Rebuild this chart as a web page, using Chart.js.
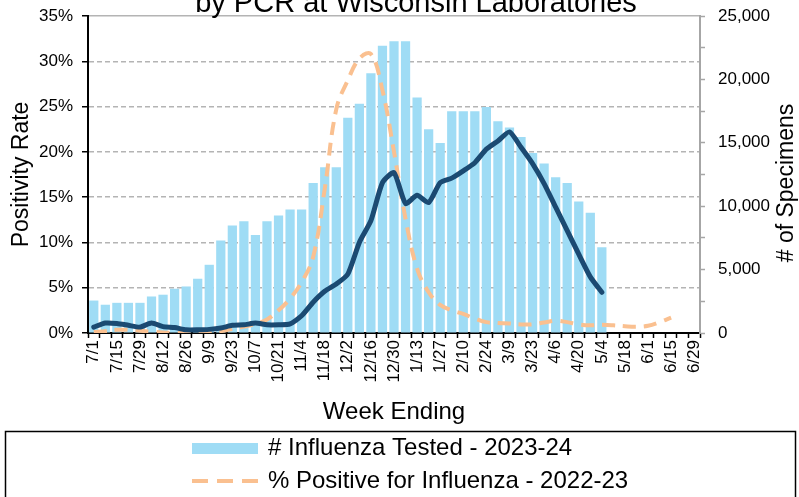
<!DOCTYPE html>
<html>
<head>
<meta charset="utf-8">
<script src="https://cdn.jsdelivr.net/npm/chart.js@4.4.1/dist/chart.umd.min.js"></script>
<style>
  html, body { margin: 0; padding: 0; background: #fff; }
  #wrap { width: 799px; height: 497px; position: relative; overflow: hidden; }
</style>
</head>
<body>
<div id="wrap"><canvas id="fluChart" width="799" height="497"></canvas></div>
<script>
// Week ending dates, July 2023 - June 2024
const weeks = ['7/1', '7/8', '7/15', '7/22', '7/29', '8/5', '8/12', '8/19', '8/26',
    '9/2', '9/9', '9/16', '9/23', '9/30', '10/7', '10/14', '10/21', '10/28',
    '11/4', '11/11', '11/18', '11/25', '12/2', '12/9', '12/16', '12/23', '12/30',
    '1/6', '1/13', '1/20', '1/27', '2/3', '2/10', '2/17', '2/24',
    '3/2', '3/9', '3/16', '3/23', '3/30', '4/6', '4/13', '4/20', '4/27',
    '5/4', '5/11', '5/18', '5/25', '6/1', '6/8', '6/15', '6/22', '6/29'];

// # of specimens tested, 2023-24 (right axis)
const tested2324 = [2560, 2230, 2380, 2380, 2380, 2880, 3020, 3490, 3670, 4280,
    5380, 7300, 8480, 8820, 7720, 8820, 9270, 9740, 9740, 11820,
    13080, 13080, 16980, 18080, 20480, 22660, 23000, 23000, 18580, 16060,
    14980, 17480, 17480, 17480, 17820, 16690, 16210, 15450, 14190, 13370,
    12290, 11820, 10380, 9480, 6770];

// % positive for influenza, 2023-24 (left axis)
const pos2324 = [0.65, 1.1, 1.05, 0.85, 0.65, 1.1, 0.7, 0.6, 0.35, 0.35,
    0.4, 0.55, 0.85, 0.9, 1.1, 0.9, 0.9, 1.0, 1.9, 3.4,
    4.6, 5.4, 6.5, 10.0, 12.4, 16.6, 17.7, 14.3, 15.2, 14.4,
    16.6, 17.1, 17.9, 18.8, 20.3, 21.2, 22.2, 20.5, 18.7, 16.5,
    13.9, 11.3, 8.7, 6.2, 4.5];

// % positive for influenza, 2022-23 (left axis)
const pos2223 = [0.1, 0.2, 0.35, 0.35, 0.25, 0.15, 0.05, 0.0, 0.0, 0.0,
    0.05, 0.2, 0.45, 0.7, 1.0, 1.5, 2.5, 3.8, 5.6, 8.4,
    15.9, 24.7, 27.9, 30.3, 30.8, 26.8, 20.0, 12.6, 7.1, 4.5,
    3.1, 2.5, 2.1, 1.6, 1.2, 1.1, 1.05, 0.95, 0.95, 1.15,
    1.35, 1.2, 0.95, 0.85, 0.9, 0.85, 0.75, 0.7, 0.8, 1.2,
    1.7];

const titleText = 'by PCR at Wisconsin Laboratories';
const barColor = '#9fdcf5';
const blueColor = '#1b4a72';
const orangeColor = '#fac090';
const fontFam = "'Liberation Sans', Arial, sans-serif";

Chart.defaults.font.family = fontFam;
Chart.defaults.color = '#000';

// title, right axis title and the boxed legend
const extras = {
    id: 'extras',
    afterDraw(chart) {
        const c = chart.ctx;
        c.save();
        c.fillStyle = '#000';
        c.font = '29px ' + fontFam;
        c.textAlign = 'center';
        c.textBaseline = 'alphabetic';
        c.fillText(titleText, 416, 12);

        c.save();
        c.translate(787, 183);
        c.rotate(-Math.PI / 2);
        c.font = '23px ' + fontFam;
        c.textBaseline = 'middle';
        c.fillText('# of Specimens', 0, 0);
        c.restore();

        // legend box
        c.strokeStyle = '#000';
        c.lineWidth = 1.5;
        c.strokeRect(5.5, 431.5, 790, 120);

        c.fillStyle = barColor;
        c.fillRect(192, 443, 66, 11);

        c.strokeStyle = orangeColor;
        c.lineWidth = 4;
        c.setLineDash([16, 9]);
        c.beginPath();
        c.moveTo(192, 481);
        c.lineTo(264, 481);
        c.stroke();
        c.setLineDash([]);

        c.fillStyle = '#000';
        c.font = '24px ' + fontFam;
        c.textAlign = 'left';
        c.textBaseline = 'middle';
        c.fillText('# Influenza Tested - 2023-24', 268, 448);
        c.fillText('% Positive for Influenza - 2022-23', 268, 481);
        c.restore();
    }
};

// fixed axis boxes so the plot area lands where it is in the original
function fixY(w) {
    return s => {
        s.width = w;
        s.paddingTop = 0;
        s.paddingBottom = 0;
    };
}

const ctx = document.getElementById('fluChart').getContext('2d');
new Chart(ctx, {
    type: 'bar',
    data: {
        labels: weeks,
        datasets: [{
            type: 'line',
            label: '% Positive for Influenza - 2023-24',
            data: pos2324,
            yAxisID: 'y',
            borderColor: blueColor,
            borderWidth: 5,
            borderCapStyle: 'round',
            borderJoinStyle: 'round',
            pointRadius: 0,
            tension: 0.2,
            order: 0
        }, {
            type: 'line',
            label: '% Positive for Influenza - 2022-23',
            data: pos2223,
            yAxisID: 'y',
            borderColor: orangeColor,
            borderWidth: 4,
            borderDash: [13, 8],
            pointRadius: 0,
            tension: 0.4,
            order: 1
        }, {
            label: '# Influenza Tested - 2023-24',
            data: tested2324,
            yAxisID: 'yR',
            backgroundColor: barColor,
            barPercentage: 0.8,
            categoryPercentage: 1,
            order: 2
        }]
    },
    options: {
        responsive: false,
        animation: false,
        devicePixelRatio: 1,
        layout: { padding: { top: 16, left: 0, right: 0, bottom: 0 } },
        plugins: {
            legend: { display: false },
            title: { display: false },
            tooltip: { enabled: false }
        },
        scales: {
            x: {
                afterFit: s => { s.height = 164; },
                grid: {
                    drawOnChartArea: false,
                    drawTicks: true,
                    tickLength: 5,
                    tickColor: '#000',
                    tickWidth: 1.5,
                    offset: true
                },
                border: { color: '#000', width: 2 },
                ticks: {
                    autoSkip: false,
                    minRotation: 90,
                    maxRotation: 90,
                    padding: 2,
                    font: { size: 17 },
                    callback: function (v, i) { return i % 2 === 0 ? weeks[i] : ''; }
                },
                title: {
                    display: true,
                    text: 'Week Ending',
                    font: { size: 24 },
                    padding: { top: 0, bottom: 70.6 }
                }
            },
            y: {
                position: 'left',
                min: 0,
                max: 35,
                afterFit: fixY(88),
                ticks: {
                    stepSize: 5,
                    padding: 9,
                    font: { size: 17 },
                    callback: v => v + '%'
                },
                grid: {
                    color: c => (c.tick && c.tick.value === 0) ? 'rgba(0,0,0,0)' : '#b4b4b4',
                    lineWidth: 1.5,
                    tickLength: 6,
                    tickColor: '#000',
                    tickWidth: 1.5
                },
                border: {
                    color: '#000',
                    width: 2,
                    dash: c => (c.tick && c.tick.value === 35) ? [] : [5, 3]
                },
                title: {
                    display: true,
                    text: 'Positivity Rate',
                    font: { size: 23, lineHeight: 1 },
                    padding: { top: 10.5, bottom: 0 }
                }
            },
            yR: {
                position: 'right',
                min: 0,
                max: 25000,
                afterFit: fixY(99),
                ticks: {
                    stepSize: 2500,
                    padding: 13,
                    font: { size: 17 },
                    callback: v => v % 5000 === 0 ? v.toLocaleString('en-US') : ''
                },
                grid: {
                    drawOnChartArea: false,
                    tickLength: 5,
                    tickColor: '#a6a6a6',
                    tickWidth: 1.5
                },
                border: { color: '#a6a6a6', width: 2 }
            }
        }
    },
    plugins: [extras]
});
</script>
</body>
</html>
